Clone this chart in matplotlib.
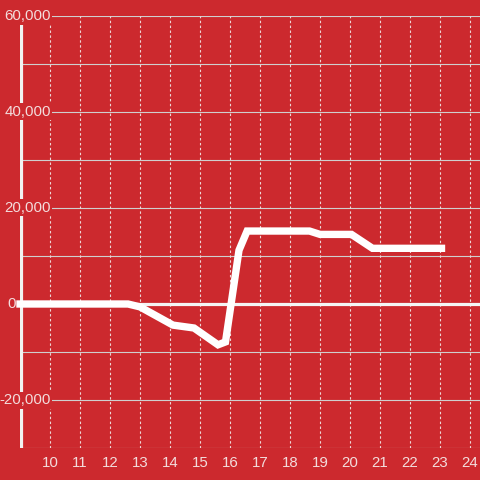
import matplotlib
matplotlib.use("Agg")
import matplotlib.pyplot as plt

plt.rcParams['font.family'] = ['Liberation Sans', 'DejaVu Sans']

# hour of day vs value
hours = [9.0, 12.6, 13.0, 14.1, 14.8, 15.6, 15.85, 16.3, 16.57, 18.65, 19.0, 20.05, 20.75, 23.05]
values = [0, 0, -600, -4400, -5000, -8500, -7900, 11200, 15200, 15200, 14500, 14500, 11600, 11600]

x_ticks = list(range(10, 25))
y_grid = list(range(-30000, 60001, 10000))
y_labels = [-20000, 0, 20000, 40000, 60000]

bg = '#cc292e'
txt = '#f3dcdc'

fig = plt.figure(figsize=(4.8, 4.8), dpi=100, facecolor=bg)
ax = fig.add_axes([20/480, 32/480, 460/480, 432/480], facecolor=bg)
ax.set_xlim(9, 24 + 1/3)
ax.set_ylim(-30000, 60000)

for s in ax.spines.values():
    s.set_visible(False)

ax.set_yticks(y_grid)
ax.tick_params(axis='y', length=0, labelleft=False)
ax.set_xticks(x_ticks)
ax.set_xticklabels([str(h) for h in x_ticks])
ax.tick_params(axis='x', length=0, pad=5.5, labelsize=10.8, labelcolor=txt)

for y in y_grid:
    ax.axhline(y, color='#cfcfcf', lw=0.8, zorder=1)
for x in x_ticks:
    ax.axvline(x, color='#eed6d6', lw=0.8, ls=(0, (2.2, 2.2)), zorder=1)

ax.axvline(9.02, color='#f2f2f2', lw=2.3, zorder=2)
ax.axhline(0, color='#f4f4f4', lw=2.3, zorder=2)

for v in y_labels:
    xpos = 8.867 if v == 0 else 10.03
    ax.text(xpos, v, f"{v:,}", ha='right', va='center', fontsize=10.8, color=txt,
            zorder=4, clip_on=False,
            bbox=dict(boxstyle='square,pad=0.1', fc=bg, ec='none'))

ax.plot(hours, values, color='white', lw=5.3, solid_capstyle='projecting',
        solid_joinstyle='miter', zorder=5, clip_on=False)

fig.savefig('out.png', dpi=100, facecolor=bg)
